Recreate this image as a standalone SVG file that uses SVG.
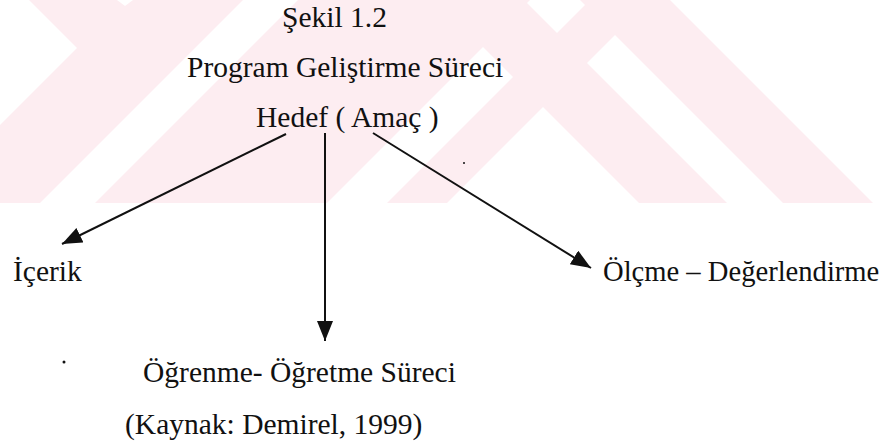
<svg xmlns="http://www.w3.org/2000/svg" width="891" height="444" viewBox="0 0 891 444">
  <style>
    .t { font-family: "Liberation Serif", "Times New Roman", serif; font-size: 29.5px; fill: #111; }
    .wm { fill: #fdedf1; }
    .bg { fill: #ffffff; }
    .edge { stroke: #111; stroke-width: 2; fill: none; }
  </style>
  <defs>
    <marker id="arrow" markerUnits="userSpaceOnUse" markerWidth="22" markerHeight="18" refX="20" refY="8" orient="auto">
      <path d="M0,0 L20,8 L0,16 z" fill="#111"/>
    </marker>
  </defs>
  <rect class="bg" x="0" y="0" width="891" height="444"/>
  <g id="watermark">
    <polygon class="wm" points="29,0 670,0 873,203 0,203 0,125 77,48"/>
    <polygon class="bg" points="117,0 133,0 125,6"/>
    <polygon class="bg" points="243,0 298,0 95,203 40,203"/>
    <polygon class="bg" points="483,47 513,77 387,203 327,203"/>
    <polygon class="bg" points="530,0 580,0 585,5 557,33 527,3"/>
    <polygon class="bg" points="543,107 639,203 447,203"/>
    <polygon class="bg" points="615,35 783,203 727,203 587,63"/>
  </g>
  <g id="connectors">
    <line class="edge" x1="286" y1="134" x2="62" y2="244" marker-end="url(#arrow)"/>
    <line class="edge" x1="325" y1="133" x2="325" y2="341" marker-end="url(#arrow)"/>
    <line class="edge" x1="373" y1="133" x2="591" y2="268" marker-end="url(#arrow)"/>
  </g>
  <g id="title">
    <text class="t" x="282" y="27">Şekil 1.2</text>
    <text class="t" x="187" y="77">Program Geliştirme Süreci</text>
  </g>
  <g id="hedef">
    <text class="t" x="256" y="127">Hedef ( Amaç )</text>
  </g>
  <g id="icerik">
    <text class="t" x="13" y="281">İçerik</text>
  </g>
  <g id="olcme">
    <text class="t" x="603" y="281" style="font-size:28.6px">Ölçme – Değerlendirme</text>
  </g>
  <g id="ogrenme">
    <text class="t" x="143" y="382">Öğrenme- Öğretme Süreci</text>
  </g>
  <g id="kaynak">
    <text class="t" x="125" y="434">(Kaynak: Demirel, 1999)</text>
  </g>
  <circle cx="64" cy="362" r="1.5" fill="#111"/>
  <circle cx="464" cy="163" r="1" fill="#111"/>
</svg>
